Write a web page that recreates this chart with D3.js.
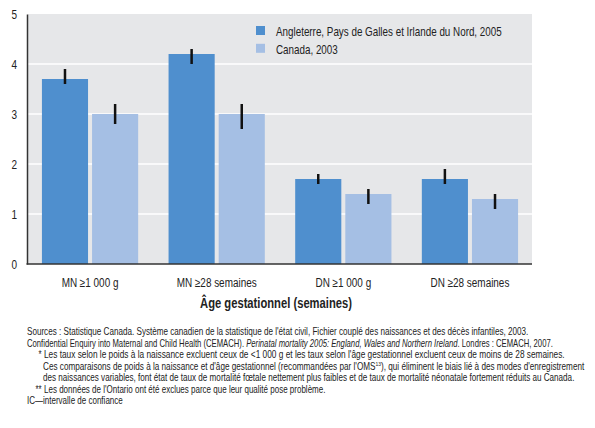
<!DOCTYPE html>
<html>
<head>
<meta charset="utf-8">
<script src="https://cdn.jsdelivr.net/npm/d3@7"></script>
<style>
  body { margin: 0; background: #fff; }
  svg { display: block; font-family: "Liberation Sans", Arial, sans-serif; }
</style>
</head>
<body>
<svg></svg>
<script>
// ----- Data ----- //
var categories = ["MN \u22651 000 g", "MN \u226528 semaines", "DN \u22651 000 g", "DN \u226528 semaines"];
var seriesNames = ["Angleterre, Pays de Galles et Irlande du Nord, 2005", "Canada, 2003"];
var englandValues = [3.7, 4.2, 1.7, 1.7];
var englandLow = [3.6, 4.0, 1.6, 1.6];
var englandHigh = [3.9, 4.3, 1.8, 1.9];
var canadaValues = [3.0, 3.0, 1.4, 1.3];
var canadaLow = [2.8, 2.7, 1.2, 1.1];
var canadaHigh = [3.2, 3.2, 1.5, 1.4];
var yTicks = [0, 1, 2, 3, 4, 5];
var xTitle = "\u00c2ge gestationnel (semaines)";

var colors = ["#4f8fce", "#a5bfe4"];

// ----- SVG settings ----- //
var svgWidth = 595;
var svgHeight = 428;
var plot = {left: 28, right: 532, top: 14, bottom: 264};

var svg = d3.select("svg")
  .attr('width', svgWidth)
  .attr('height', svgHeight);

var data = categories.map(function(c, i) {
  return {
    cat: c,
    bars: [
      {s: 0, v: englandValues[i], lo: englandLow[i], hi: englandHigh[i]},
      {s: 1, v: canadaValues[i], lo: canadaLow[i], hi: canadaHigh[i]}
    ]
  };
});

// ----- Scales ----- //
var x0 = d3.scaleBand()
  .domain(categories)
  .range([plot.left, plot.right])
  .paddingInner(0.24)
  .paddingOuter(0.11);

var x1 = d3.scaleBand()
  .domain([0, 1])
  .range([0, x0.bandwidth()])
  .paddingInner(0.08);

var y = d3.scaleLinear()
  .domain([0, 5])
  .range([plot.bottom, plot.top]);

// ----- Background + grid ----- //
svg.append('rect')
  .attr('x', plot.left)
  .attr('y', plot.top)
  .attr('width', plot.right - plot.left)
  .attr('height', plot.bottom - plot.top)
  .attr('fill', '#e6e7e9');

svg.append('g')
  .selectAll('line')
  .data(yTicks.slice(1, 5))
  .enter()
  .append('line')
  .attr('x1', plot.left)
  .attr('x2', plot.right)
  .attr('y1', function(d) { return y(d); })
  .attr('y2', function(d) { return y(d); })
  .attr('stroke', '#fff')
  .attr('stroke-width', 1.5);

// ----- Bars ----- //
var groups = svg.append('g')
  .selectAll('g')
  .data(data)
  .enter()
  .append('g')
  .attr('transform', function(d) { return translate(x0(d.cat), 0); });

groups.selectAll('rect')
  .data(function(d) { return d.bars; })
  .enter()
  .append('rect')
  .attr('x', function(d) { return x1(d.s); })
  .attr('y', function(d) { return y(d.v); })
  .attr('width', x1.bandwidth())
  .attr('height', function(d) { return y(0) - y(d.v); })
  .attr('fill', function(d) { return colors[d.s]; });

groups.selectAll('line.err')
  .data(function(d) { return d.bars; })
  .enter()
  .append('line')
  .attr('class', 'err')
  .attr('x1', function(d) { return x1(d.s) + x1.bandwidth() / 2; })
  .attr('x2', function(d) { return x1(d.s) + x1.bandwidth() / 2; })
  .attr('y1', function(d) { return y(d.lo); })
  .attr('y2', function(d) { return y(d.hi); })
  .attr('stroke', '#111')
  .attr('stroke-width', 2.5);

// ----- Axes ----- //
var yAxis = svg.append('g')
  .attr('transform', translate(plot.left - 1, 0))
  .call(d3.axisLeft(y).tickValues(yTicks).tickFormat(d3.format('d')).tickSize(0).tickPadding(10));
yAxis.select('.domain').attr('stroke', '#333').attr('stroke-width', 1.5);
yAxis.selectAll('text').attr('font-size', 12.5).attr('fill', '#222')
  .attr('font-family', null);
condense(yAxis.selectAll('text'), null, 0.8);

var xAxis = svg.append('g')
  .attr('transform', translate(0, plot.bottom))
  .call(d3.axisBottom(x0).tickSize(0).tickPadding(14));
xAxis.select('.domain').attr('stroke', '#333').attr('stroke-width', 1.5)
  .attr('d', 'M' + (plot.left - 1.5) + ',0H' + plot.right);
xAxis.selectAll('text').attr('font-size', 12.5).attr('fill', '#222')
  .attr('font-family', null);
condense(xAxis.selectAll('text'), 80, null, 1);

var title = svg.append('text')
  .attr('x', 276)
  .attr('y', 308)
  .attr('text-anchor', 'middle')
  .attr('font-size', 14)
  .attr('font-weight', 'bold')
  .attr('fill', '#222')
  .text(xTitle);
condense(title, 152);

// ----- Legend ----- //
var legend = svg.append('g')
  .selectAll('g')
  .data(seriesNames)
  .enter()
  .append('g')
  .attr('transform', function(d, i) { return translate(256, 26 + i * 17.8); });

legend.append('rect')
  .attr('width', 9)
  .attr('height', 9)
  .attr('fill', function(d, i) { return colors[i]; });

var legendText = legend.append('text')
  .attr('x', 20)
  .attr('y', 10)
  .attr('font-size', 13)
  .attr('fill', '#222')
  .text(function(d) { return d; });
condense(legendText, 226);

// ----- Notes ----- //
var notes = svg.append('g')
  .attr('font-size', 10)
  .attr('fill', '#222');

var noteY = 335;
var noteStep = 11.55;

// one footnote line, squeezed so that it ends at endX
function note(xp, row, parts, endX) {
  var t = notes.append('text').attr('x', xp).attr('y', noteY + row * noteStep);
  parts.forEach(function(p) {
    var s = t.append('tspan').text(p.t);
    if (p.i) s.attr('font-style', 'italic');
    if (p.sup) s.attr('font-size', 6).attr('baseline-shift', 'super');
  });
  condense(t, endX - xp);
  return t;
}

function marker(row, txt) {
  var t = notes.append('text')
    .attr('x', 41.5)
    .attr('y', noteY + row * noteStep)
    .attr('text-anchor', 'end')
    .text(txt);
  condense(t, null, 0.78);
}

note(27, 0, [{t: "Sources : Statistique Canada. Syst\u00e8me canadien de la statistique de l'\u00e9tat civil, Fichier coupl\u00e9 des naissances et des d\u00e9c\u00e8s infantiles, 2003."}], 529);
note(27, 1, [{t: "Confidential Enquiry into Maternal and Child Health (CEMACH). "}, {t: "Perinatal mortality 2005: England, Wales and Northern Ireland", i: true}, {t: ". Londres : CEMACH, 2007."}], 554);
marker(2, "*");
note(44, 2, [{t: "Les taux selon le poids \u00e0 la naissance excluent ceux de <1 000 g et les taux selon l'\u00e2ge gestationnel excluent ceux de moins de 28 semaines."}], 565);
note(43, 3, [{t: "Ces comparaisons de poids \u00e0 la naissance et d'\u00e2ge gestationnel (recommand\u00e9es par l'OMS"}, {t: "13", sup: true}, {t: "), qui \u00e9liminent le biais li\u00e9 \u00e0 des modes d'enregistrement"}], 585);
note(43, 4, [{t: "des naissances variables, font \u00e9tat de taux de mortalit\u00e9 f\u0153tale nettement plus faibles et de taux de mortalit\u00e9 n\u00e9onatale fortement r\u00e9duits au Canada."}], 575);
marker(5, "**");
note(44, 5, [{t: "Les donn\u00e9es de l'Ontario ont \u00e9t\u00e9 exclues parce que leur qualit\u00e9 pose probl\u00e8me."}], 326);
note(27, 6, [{t: "IC\u2014intervalle de confiance"}], 123);

// ==================== Helper functions ==================== //

// squeeze texts horizontally (condensed face); k from the first node's target width
function condense(sel, target, k, idx) {
  var nodes = sel.nodes();
  if (!k) {
    var ref = nodes[idx || 0];
    k = target / ref.getComputedTextLength();
  }
  sel.each(function() {
    var t = d3.select(this);
    var xp = +t.attr('x') || 0;
    var yp = +t.attr('y') || 0;
    t.attr('x', 0).attr('y', 0)
      .attr('transform', translate(xp, yp) + ' scale(' + k + ',1)');
  });
}

function translate(x, y) {
  return 'translate(' + x + ',' + y + ')';
}
</script>
</body>
</html>
